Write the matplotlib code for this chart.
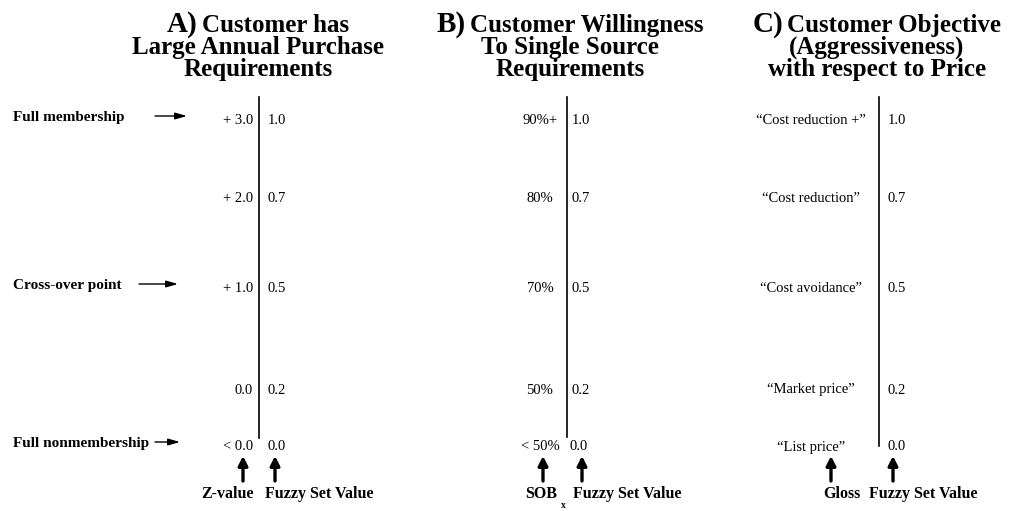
import matplotlib
matplotlib.use('Agg')
import matplotlib.pyplot as plt

# fuzzy set calibration table, three panels
fuzzy_vals = ['1.0', '0.7', '0.5', '0.2', '0.0']
z_vals = ['+ 3.0', '+ 2.0', '+ 1.0', '0.0', '< 0.0']
sob_vals = ['90%+', '80%', '70%', '50%', '< 50%']
gloss_vals = ['\u201cCost reduction +\u201d', '\u201cCost reduction\u201d', '\u201cCost avoidance\u201d',
              '\u201cMarket price\u201d', '\u201cList price\u201d']
side_labels = {0: 'Full membership', 2: 'Cross-over point', 4: 'Full nonmembership'}
side_arrows = {0: (155, 187), 2: (139, 178), 4: (155, 180)}

titles = [('A)', 'Customer has', 'Large Annual Purchase', 'Requirements'),
          ('B)', 'Customer Willingness', 'To Single Source', 'Requirements'),
          ('C)', 'Customer Objective', '(Aggressiveness)', 'with respect to Price')]

# layout in pixels
row_y = [121, 199, 289, 390, 447]
title_cx = [258, 570, 877]
line_x = [259, 567, 879]
line_bottom = [438, 437, 446]

FONT = 'Liberation Serif'

fig = plt.figure(figsize=(10.15, 5.11), dpi=100)
ax = fig.add_axes([0, 0, 1, 1])
ax.set_xlim(0, 1015)
ax.set_ylim(511, 0)
ax.axis('off')

renderer = fig.canvas.get_renderer()

def text_width(t):
    bb = t.get_window_extent(renderer=renderer)
    return bb.width

# titles
for i, (letter, l1, l2, l3) in enumerate(titles):
    cx = title_cx[i]
    t1 = ax.text(0, 32, letter, fontsize=21, fontweight='bold', family=FONT, va='baseline', ha='left')
    t2 = ax.text(0, 32, l1, fontsize=18, fontweight='bold', family=FONT, va='baseline', ha='left')
    w1 = text_width(t1)
    w2 = text_width(t2)
    gap = 4
    start = cx - (w1 + gap + w2) / 2
    t1.set_x(start)
    t2.set_x(start + w1 + gap)
    ax.text(cx, 54, l2, fontsize=18, fontweight='bold', family=FONT, va='baseline', ha='center')
    ax.text(cx, 76, l3, fontsize=18, fontweight='bold', family=FONT, va='baseline', ha='center')

# vertical divider lines
for i in range(3):
    ax.plot([line_x[i], line_x[i]], [97, line_bottom[i]], color='black', lw=1.2)

# row labels
for r, y in enumerate(row_y):
    ax.text(253, y, z_vals[r], fontsize=10.5, family=FONT, ha='right', va='center')
    ax.text(268, y, fuzzy_vals[r], fontsize=10.5, family=FONT, ha='left', va='center')
    ax.text(540, y, sob_vals[r], fontsize=10.5, family=FONT, ha='center', va='center')
    ax.text(572 if r < 4 else 570, y, fuzzy_vals[r], fontsize=10.5, family=FONT, ha='left', va='center')
    ax.text(811, y, gloss_vals[r], fontsize=10.5, family=FONT, ha='center', va='center')
    ax.text(888, y, fuzzy_vals[r], fontsize=10.5, family=FONT, ha='left', va='center')

# side labels with small arrows
for r, lab in side_labels.items():
    y = row_y[r] - 4
    ax.text(13, y, lab, fontsize=11, fontweight='bold', family=FONT, ha='left', va='center')
    x0, x1 = side_arrows[r]
    ax.annotate('', xy=(x1, y - 1), xytext=(x0, y - 1),
                arrowprops=dict(arrowstyle='-|>,head_length=0.7,head_width=0.2', lw=1, color='black',
                                shrinkA=0, shrinkB=0))

# up arrows and bottom labels
up_x = [243, 275, 543, 582, 831, 893]
for x in up_x:
    ax.annotate('', xy=(x, 456), xytext=(x, 481),
                arrowprops=dict(arrowstyle='-|>,head_length=0.55,head_width=0.28', lw=2.4, color='black',
                                shrinkA=0, shrinkB=0))

bottom_y = 494
ax.text(228, bottom_y, 'Z-value', fontsize=11.5, fontweight='bold', family=FONT, ha='center', va='center')
ax.text(265, bottom_y, 'Fuzzy Set Value', fontsize=11.5, fontweight='bold', family=FONT, ha='left', va='center')
ax.text(541, bottom_y, 'SOB', fontsize=11.5, fontweight='bold', family=FONT, ha='center', va='center')
ax.text(563, 506, 'x', fontsize=7, fontweight='bold', family=FONT, ha='center', va='center')
ax.text(573, bottom_y, 'Fuzzy Set Value', fontsize=11.5, fontweight='bold', family=FONT, ha='left', va='center')
ax.text(842, bottom_y, 'Gloss', fontsize=11.5, fontweight='bold', family=FONT, ha='center', va='center')
ax.text(869, bottom_y, 'Fuzzy Set Value', fontsize=11.5, fontweight='bold', family=FONT, ha='left', va='center')

fig.savefig('out.png', dpi=100)
